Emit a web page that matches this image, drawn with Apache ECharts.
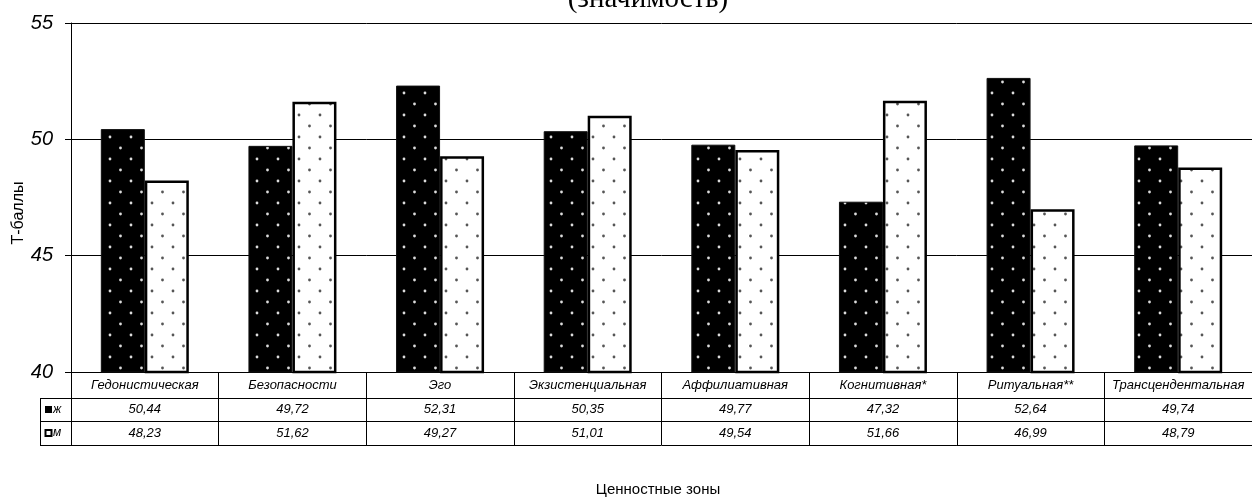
<!DOCTYPE html>
<html>
<head>
<meta charset="utf-8">
<script src="https://cdn.jsdelivr.net/npm/echarts@6/dist/echarts.min.js"></script>
<style>
  html, body { margin: 0; padding: 0; background: #fff; }
  #chart { width: 1252px; height: 498px; }
</style>
</head>
<body>
<div id="chart"></div>
<script>
// Ценностные зоны и средние Т-баллы по группам
const categories = ['Гедонистическая', 'Безопасности', 'Эго', 'Экзистенциальная',
  'Аффилиативная', 'Когнитивная*', 'Ритуальная**', 'Трансцендентальная'];
const femaleValues = [50.44, 49.72, 52.31, 50.35, 49.77, 47.32, 52.64, 49.74];
const maleValues = [48.23, 51.62, 49.27, 51.01, 49.54, 51.66, 46.99, 48.79];
const yTicks = [40, 45, 50, 55];
const seriesNames = ['ж', 'м'];

const SANS = 'Liberation Sans, Arial, sans-serif';
const SERIF = 'Liberation Serif, Times New Roman, serif';

// dotted fill: background with staggered round dots
function dotPattern(bg, dot) {
  const c = document.createElement('canvas');
  c.width = 21; c.height = 22;
  const g = c.getContext('2d');
  g.fillStyle = bg;
  g.fillRect(0, 0, 21, 22);
  g.fillStyle = dot;
  [[5, 5], [15.5, 16]].forEach(([x, y]) => {
    g.beginPath();
    g.arc(x, y, 1.4, 0, Math.PI * 2);
    g.fill();
  });
  return { image: c, repeat: 'repeat' };
}

const fmt = v => v.toFixed(2).replace('.', ',');

const rowTop = 372;        // bottom of plotting area
const rowH = [26, 23, 24]; // heights of table rows

function tableAxis(offset, formatter, margin) {
  return {
    type: 'category',
    data: categories,
    position: 'bottom',
    offset: offset,
    axisLine: { show: true, lineStyle: { color: '#000', width: 1 } },
    axisTick: { show: false },
    axisLabel: {
      show: !!formatter,
      interval: 0,
      margin: margin || 0,
      verticalAlign: 'middle',
      color: '#000',
      fontStyle: 'italic',
      fontFamily: SANS,
      fontSize: 13,
      formatter: formatter || ''
    },
    splitLine: { show: false }
  };
}

const chart = echarts.init(document.getElementById('chart'), null, { renderer: 'canvas' });

const option = {
  animation: false,
  backgroundColor: '#fff',
  grid: { left: 71, top: 23, width: 1186, height: 349, containLabel: false },
  xAxis: [
    {
      type: 'category',
      data: categories,
      position: 'bottom',
      axisLine: { show: true, lineStyle: { color: '#000', width: 1 } },
      axisTick: { show: true, interval: 0, length: rowH[0] + rowH[1] + rowH[2], lineStyle: { color: '#000', width: 1 } },
      axisLabel: {
        interval: 0, margin: rowH[0] / 2, verticalAlign: 'middle',
        color: '#000', fontStyle: 'italic', fontFamily: SANS, fontSize: 13
      },
      splitLine: { show: false }
    },
    tableAxis(rowH[0], (v, i) => fmt(femaleValues[i]), rowH[1] / 2),
    tableAxis(rowH[0] + rowH[1], (v, i) => fmt(maleValues[i]), rowH[2] / 2),
    tableAxis(rowH[0] + rowH[1] + rowH[2], null)
  ],
  yAxis: {
    type: 'value',
    min: yTicks[0],
    max: yTicks[yTicks.length - 1],
    interval: yTicks[1] - yTicks[0],
    axisLine: { show: true, lineStyle: { color: '#000', width: 1 } },
    axisTick: { show: true, length: 6, lineStyle: { color: '#000', width: 1 } },
    axisLabel: {
      margin: 18, color: '#000', fontStyle: 'italic', fontFamily: SANS, fontSize: 20
    },
    splitLine: { show: true, lineStyle: { color: '#000', width: 1 } }
  },
  series: [
    {
      name: seriesNames[0],
      type: 'bar',
      data: femaleValues,
      barWidth: 44,
      barGap: '0%',
      itemStyle: { color: dotPattern('#000', '#dcdcdc'), borderColor: '#111', borderWidth: 1 }
    },
    {
      name: seriesNames[1],
      type: 'bar',
      data: maleValues,
      barWidth: 44,
      barGap: '0%',
      itemStyle: { color: dotPattern('#fff', '#555'), borderColor: '#000', borderWidth: 2.5 }
    }
  ],
  graphic: []
};

chart.setOption(option);

// legend key column at the left of the value rows
const leftX = 40.5;
const y1 = rowTop + rowH[0];
const y2 = y1 + rowH[1];
const y3 = y2 + rowH[2];
const lineStyle = { stroke: '#000', lineWidth: 1 };
const gfx = [
  { type: 'line', shape: { x1: leftX, y1: y1 + 0.5, x2: 71, y2: y1 + 0.5 }, style: lineStyle },
  { type: 'line', shape: { x1: leftX, y1: y2 + 0.5, x2: 71, y2: y2 + 0.5 }, style: lineStyle },
  { type: 'line', shape: { x1: leftX, y1: y3 + 0.5, x2: 71, y2: y3 + 0.5 }, style: lineStyle },
  { type: 'line', shape: { x1: leftX, y1: y1, x2: leftX, y2: y3 + 1 }, style: lineStyle },
  { type: 'rect', shape: { x: 45, y: y1 + rowH[1] / 2 - 3.5, width: 7, height: 7 }, style: { fill: '#000' } },
  { type: 'text', x: 53, y: y1 + rowH[1] / 2, style: { text: seriesNames[0], fill: '#000', font: 'italic 12px ' + SANS, verticalAlign: 'middle' } },
  { type: 'rect', shape: { x: 45.5, y: y2 + rowH[2] / 2 - 3, width: 6, height: 6 }, style: { fill: '#fff', stroke: '#000', lineWidth: 2 } },
  { type: 'text', x: 53, y: y2 + rowH[2] / 2, style: { text: seriesNames[1], fill: '#000', font: 'italic 12px ' + SANS, verticalAlign: 'middle' } },
  // titles
  { type: 'text', x: 648, y: -1, style: { text: '(значимость)', fill: '#000', font: '29px ' + SERIF, align: 'center', verticalAlign: 'middle' } },
  { type: 'text', x: 19, y: 213, rotation: Math.PI / 2, style: { text: 'Т-баллы', fill: '#000', font: '16px ' + SANS, align: 'center', verticalAlign: 'middle' } },
  { type: 'text', x: 658, y: 490, style: { text: 'Ценностные зоны', fill: '#000', font: '15px ' + SANS, align: 'center', verticalAlign: 'middle' } }
];
chart.setOption({ graphic: gfx });
</script>
</body>
</html>
